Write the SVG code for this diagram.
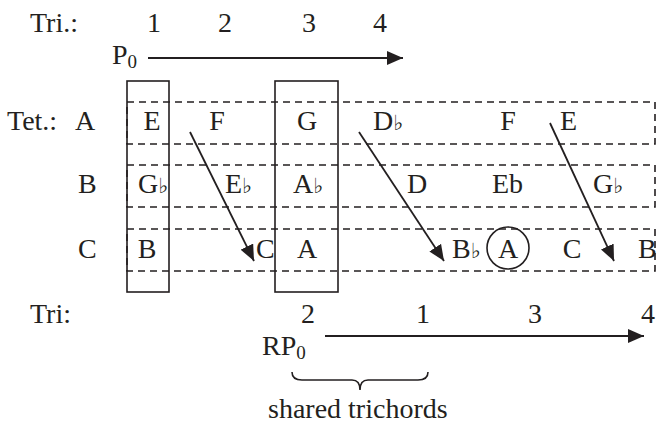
<svg xmlns="http://www.w3.org/2000/svg" width="657" height="424" viewBox="0 0 657 424">
  <style>
    text { font-family: 'Liberation Serif', Tinos, 'Times New Roman', 'DejaVu Serif', serif; font-size: 28px; fill: #231f20; }
    .c { text-anchor: middle; }
    .fl { font-family: 'DejaVu Sans', 'DejaVu Serif', sans-serif; font-size: 21px; }
    .sub { font-size: 19px; }
    .row { fill: none; stroke: #231f20; stroke-width: 1.6; stroke-dasharray: 7 5; }
    .box { fill: none; stroke: #231f20; stroke-width: 1.6; }
    .arr { fill: none; stroke: #231f20; stroke-width: 1.8; marker-end: url(#head); }
  </style>
  <defs>
    <marker id="head" markerUnits="userSpaceOnUse" markerWidth="18" markerHeight="14" refX="16" refY="7" orient="auto">
      <path d="M0,0 L16,7 L0,14 Z" fill="#231f20"/>
    </marker>
  </defs>

  <rect width="657" height="424" fill="#ffffff"/>

  <!-- top trichord labels -->
  <g id="tri-top">
    <text x="30" y="32">Tri.:</text>
    <text class="c" x="154" y="32">1</text>
    <text class="c" x="225" y="32">2</text>
    <text class="c" x="309" y="32">3</text>
    <text class="c" x="380" y="32">4</text>
    <text x="112" y="64">P<tspan class="sub" dy="4">0</tspan></text>
  </g>

  <!-- tetrachord rows (dashed) -->
  <g id="rows">
    <rect class="row" x="127" y="102" width="528" height="42"/>
    <rect class="row" x="127" y="165" width="528" height="42"/>
    <rect class="row" x="127" y="229" width="528" height="42"/>
  </g>

  <!-- shared trichord columns -->
  <g id="col-1"><rect class="box" x="127" y="81" width="42" height="211"/></g>
  <g id="col-3"><rect class="box" x="275" y="81" width="63" height="211"/></g>

  <!-- row labels -->
  <g id="row-labels">
    <text x="7" y="130">Tet.:</text>
    <text x="75" y="130">A</text>
    <text x="78" y="193">B</text>
    <text x="78" y="258">C</text>
  </g>

  <!-- row A notes -->
  <g id="row-a">
    <text class="c" x="152" y="130">E</text>
    <text class="c" x="217" y="130">F</text>
    <text class="c" x="307" y="130">G</text>
    <text x="373" y="130">D<tspan class="fl">♭</tspan></text>
    <text class="c" x="508" y="130">F</text>
    <text x="560" y="130">E</text>
  </g>

  <!-- row B notes -->
  <g id="row-b">
    <text x="138" y="193">G<tspan class="fl">♭</tspan></text>
    <text x="225" y="193">E<tspan class="fl">♭</tspan></text>
    <text x="293" y="193">A<tspan class="fl">♭</tspan></text>
    <text class="c" x="417" y="193">D</text>
    <text x="492" y="193">Eb</text>
    <text x="593" y="193">G<tspan class="fl">♭</tspan></text>
  </g>

  <!-- row C notes -->
  <g id="row-c">
    <text class="c" x="147" y="258">B</text>
    <text x="256" y="258">C</text>
    <text class="c" x="307" y="258">A</text>
    <text x="452" y="258">B<tspan class="fl">♭</tspan></text>
    <g id="circled-a">
      <circle cx="508" cy="248" r="21" fill="none" stroke="#231f20" stroke-width="1.6"/>
      <text class="c" x="508" y="258">A</text>
    </g>
    <text class="c" x="572" y="258">C</text>
    <text x="638" y="258">B</text>
  </g>

  <!-- bottom trichord labels -->
  <g id="tri-bottom">
    <text x="30" y="323">Tri:</text>
    <text class="c" x="308" y="323">2</text>
    <text class="c" x="423" y="323">1</text>
    <text class="c" x="535" y="323">3</text>
    <text class="c" x="648" y="323">4</text>
    <text x="262" y="355">RP<tspan class="sub" dy="4">0</tspan></text>
  </g>

  <!-- brace and caption -->
  <g id="shared">
    <path d="M292,372 Q292,380 302,380 L352,380 Q360,380 360,390 Q360,380 368,380 L418,380 Q428,380 428,372" fill="none" stroke="#231f20" stroke-width="1.6"/>
    <text x="268" y="418">shared trichords</text>
  </g>

  <!-- connectors -->
  <g id="connectors">
    <line class="arr" x1="148" y1="58" x2="403" y2="58"/>
    <line class="arr" x1="190" y1="132" x2="254" y2="261"/>
    <line class="arr" x1="359" y1="132" x2="444" y2="261"/>
    <line class="arr" x1="550" y1="123" x2="614" y2="261"/>
    <line class="arr" x1="325" y1="336" x2="644" y2="336"/>
  </g>
</svg>
